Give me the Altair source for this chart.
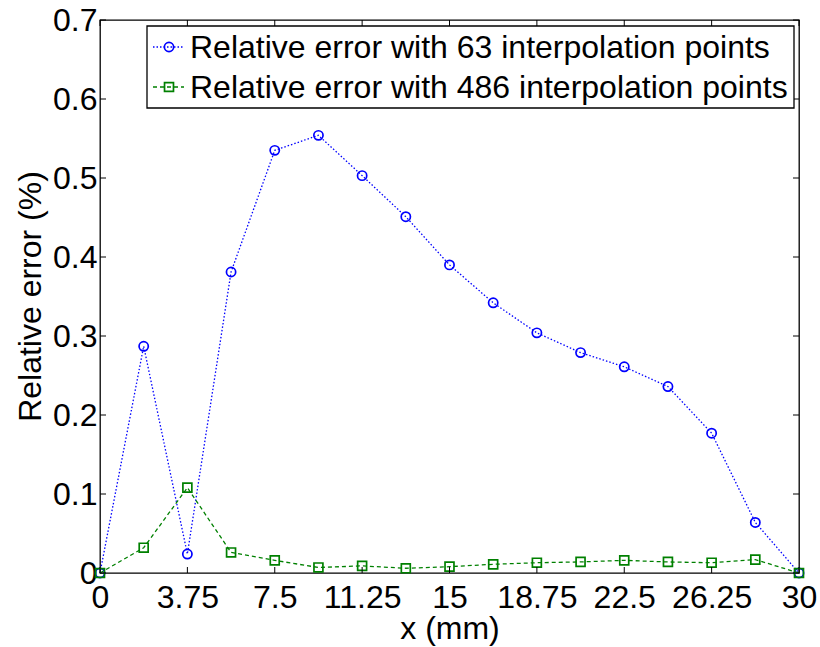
import altair as alt
import pandas as pd

# ---- data ----
x_vals = [0, 1.875, 3.75, 5.625, 7.5, 9.375, 11.25, 13.125, 15,
          16.875, 18.75, 20.625, 22.5, 24.375, 26.25, 28.125, 30]
err_63 = [0.0, 0.287, 0.024, 0.381, 0.535, 0.554, 0.503, 0.451, 0.390,
          0.342, 0.304, 0.279, 0.261, 0.236, 0.177, 0.064, 0.0]
err_486 = [0.0, 0.032, 0.108, 0.026, 0.016, 0.007, 0.009, 0.006, 0.008,
           0.011, 0.013, 0.014, 0.016, 0.014, 0.013, 0.017, 0.0]
labels = ["Relative error with 63 interpolation points",
          "Relative error with 486 interpolation points"]
x_ticks = [0, 3.75, 7.5, 11.25, 15, 18.75, 22.5, 26.25, 30]
y_ticks = [0, 0.1, 0.2, 0.3, 0.4, 0.5, 0.6, 0.7]
x_title = "x (mm)"
y_title = "Relative error (%)"

FONT = "Liberation Sans"
BLUE = "#0000ff"
GREEN = "#008000"
W, H = 699, 553

xs = alt.Scale(domain=[0, 30], nice=False, zero=False)
ys = alt.Scale(domain=[0, 0.7], nice=False)
xaxis = alt.Axis(values=x_ticks, title=x_title, labelExpr="datum.value",
                 labelPadding=9, titleBaseline="alphabetic", titleY=65,
                 labelFlush=False, labelOverlap=False)
yaxis = alt.Axis(values=y_ticks, title=y_title, labelExpr="datum.value",
                 labelPadding=3, titleBaseline="alphabetic", titleX=-60,
                 titleY=276, titleAngle=270)

df63 = pd.DataFrame({"x": x_vals, "y": err_63})
df486 = pd.DataFrame({"x": x_vals, "y": err_486})


def X(field="x"):
    return alt.X(f"{field}:Q", scale=xs, axis=xaxis)


def Y(field="y"):
    return alt.Y(f"{field}:Q", scale=ys, axis=yaxis)


line63 = alt.Chart(df63).mark_line(color=BLUE, strokeDash=[1.5, 2], strokeWidth=1.3).encode(x=X(), y=Y())
pts63 = alt.Chart(df63).mark_point(shape="circle", filled=False, color=BLUE, size=85,
                                   strokeWidth=1.7, opacity=1).encode(x=X(), y=Y())
line486 = alt.Chart(df486).mark_line(color=GREEN, strokeDash=[4, 3], strokeWidth=1.3).encode(x=X(), y=Y())
pts486 = alt.Chart(df486).mark_point(shape="square", filled=False, color=GREEN, size=80,
                                     strokeWidth=1.7, opacity=1).encode(x=X(), y=Y())

# inward ticks on all four sides
xt = pd.DataFrame({"t": x_ticks})
yt = pd.DataFrame({"t": y_ticks})
tick_style = dict(color="black", strokeWidth=1)
xt_bot = alt.Chart(xt).mark_rule(**tick_style).encode(x=X("t"), y=alt.value(H), y2=alt.value(H - 6))
xt_top = alt.Chart(xt).mark_rule(**tick_style).encode(x=X("t"), y=alt.value(0), y2=alt.value(6))
yt_left = alt.Chart(yt).mark_rule(**tick_style).encode(y=Y("t"), x=alt.value(0), x2=alt.value(6))
yt_right = alt.Chart(yt).mark_rule(**tick_style).encode(y=Y("t"), x=alt.value(W), x2=alt.value(W - 6))

# legend
one = pd.DataFrame({"a": [0]})
leg_box = alt.Chart(one).mark_rect(fill="white", stroke="black", strokeWidth=1.3).encode(
    x=alt.value(47), x2=alt.value(694), y=alt.value(6), y2=alt.value(88))
rows = [(labels[0], BLUE, [1.5, 2], "circle", 85, 27),
        (labels[1], GREEN, [4, 3], "square", 80, 67)]
leg_layers = [leg_box]
for lab, col, dash, shp, sz, py in rows:
    d = pd.DataFrame({"label": [lab]})
    leg_layers.append(alt.Chart(d).mark_rule(color=col, strokeDash=dash, strokeWidth=1.3).encode(
        x=alt.value(53), x2=alt.value(84), y=alt.value(py)))
    leg_layers.append(alt.Chart(d).mark_point(shape=shp, filled=False, color=col, size=sz,
                                              strokeWidth=1.7, opacity=1).encode(
        x=alt.value(69), y=alt.value(py)))
    leg_layers.append(alt.Chart(d).mark_text(align="left", baseline="middle", font=FONT,
                                             fontSize=32, color="black").encode(
        x=alt.value(90), y=alt.value(py + 1), text="label:N"))

chart = alt.layer(line63, line486, pts63, pts486, xt_bot, xt_top, yt_left, yt_right,
                  *leg_layers).properties(
    width=W, height=H,
    autosize=alt.AutoSizeParams(type="none"),
    padding={"left": 100, "top": 20, "right": 21, "bottom": 74},
    background="white",
).configure_view(stroke="black", strokeWidth=1.3).configure_axis(
    grid=False, ticks=False, domain=False,
    labelFont=FONT, labelFontSize=32, labelColor="black",
    titleFont=FONT, titleFontSize=32, titleFontWeight="normal", titleColor="black",
)

chart.save("out.html", embed_options={"renderer": "svg", "actions": False})
